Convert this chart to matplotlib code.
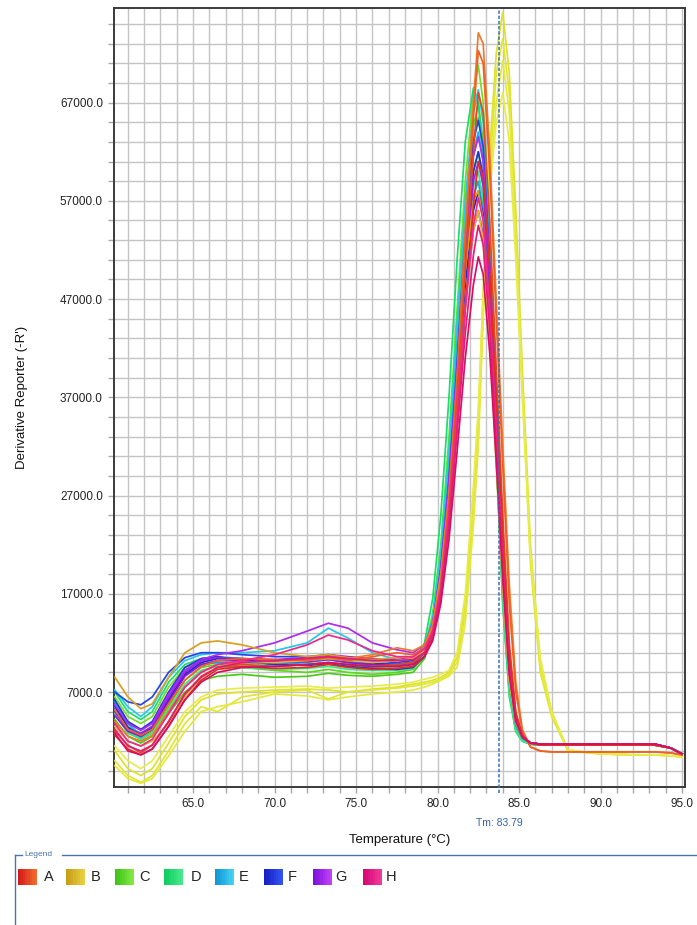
import matplotlib
matplotlib.use('Agg')
import matplotlib.pyplot as plt
import matplotlib.transforms as mtransforms
from matplotlib.patches import Rectangle
from matplotlib.lines import Line2D
import matplotlib.colors as mcolors
import numpy as np

plt.rcParams['font.family'] = ['Liberation Sans', 'DejaVu Sans']

# ---------------- data (values in thousands of -R') ----------------
TEMPS = [60.2, 61.0, 61.8, 62.5, 63.5, 64.5, 65.5, 66.5, 68.0, 70.0,
         72.0, 73.3, 74.5, 76.0, 77.5, 78.5, 79.2, 79.7, 80.2, 80.7,
         81.2, 81.7, 82.2, 82.5, 82.8, 83.2, 83.6, 84.0, 84.4, 84.8,
         85.2, 85.7, 86.3, 87.0, 88.0, 90.0, 92.0, 93.3, 94.3, 95.0]

A_CURVES = [
    [4.0, 2.5, 2.0, 2.6, 5.0, 7.5, 9.0, 9.8, 10.0, 10.2, 10.3, 10.6, 10.4, 10.8, 11.5, 11.2, 11.8, 13.8, 18.5, 27.0,
     39.0, 54.0, 67.0, 74.1, 73.0, 62.0, 47.0, 32.0, 18.0, 8.0, 3.2, 1.4, 1.0, 0.9, 0.9, 0.9, 0.9, 0.9, 0.8, 0.6],
    [5.2, 3.2, 2.6, 3.2, 5.8, 8.2, 9.6, 10.2, 10.4, 10.3, 10.2, 10.5, 10.2, 10.6, 11.0, 10.8, 11.5, 13.2, 18.0, 26.5,
     38.5, 53.0, 65.5, 72.3, 71.0, 60.0, 45.0, 30.0, 16.0, 7.0, 3.0, 1.4, 1.0, 0.9, 0.9, 0.9, 0.9, 0.9, 0.8, 0.6],
    [3.0, 1.6, 0.8, 1.6, 4.0, 6.8, 8.6, 9.5, 9.8, 9.6, 9.8, 10.0, 9.8, 9.6, 9.8, 10.0, 11.0, 13.0, 17.5, 25.5,
     37.0, 50.0, 62.0, 68.0, 66.0, 55.0, 40.0, 25.0, 12.0, 5.0, 2.5, 1.8, 1.6, 1.6, 1.6, 1.6, 1.6, 1.6, 1.3, 0.7],
    [2.6, 1.2, 0.6, 1.2, 3.5, 6.2, 8.2, 9.3, 9.6, 9.4, 9.5, 9.8, 9.5, 9.3, 9.4, 9.6, 10.6, 12.5, 16.5, 24.0,
     34.0, 46.0, 56.5, 61.0, 59.5, 50.0, 37.0, 23.0, 11.0, 4.8, 2.6, 1.8, 1.6, 1.6, 1.6, 1.6, 1.6, 1.6, 1.3, 0.7],
]

B_CURVES = [
    [8.5, 6.5, 5.3, 5.8, 8.5, 11.0, 12.0, 12.2, 11.8, 11.0, 10.6, 10.8, 10.5, 10.3, 10.5, 10.6, 11.5, 13.8, 19.0, 27.0,
     38.0, 50.0, 57.0, 58.0, 55.0, 45.0, 32.0, 19.0, 8.5, 4.0, 2.5, 1.8, 1.6, 1.6, 1.6, 1.6, 1.6, 1.6, 1.3, 0.7],
    [3.5, 2.0, 1.5, 2.0, 3.8, 6.5, 8.5, 9.5, 10.0, 10.0, 10.2, 10.4, 10.2, 10.0, 10.2, 10.4, 11.2, 13.0, 17.5, 25.0,
     35.0, 46.0, 54.0, 56.0, 53.0, 43.0, 30.0, 17.5, 8.0, 3.8, 2.4, 1.8, 1.6, 1.6, 1.6, 1.6, 1.6, 1.6, 1.3, 0.7],
]

B_SHIFTED = [
    [1.0, -0.8, -1.5, -0.8, 1.8, 4.5, 6.2, 6.8, 7.0, 7.2, 7.3, 7.2, 7.0, 7.3, 7.5, 7.8, 8.0, 8.2, 8.5, 9.0,
     10.5, 16.0, 27.0, 35.0, 48.0, 62.0, 72.0, 76.2, 70.0, 56.0, 40.0, 22.0, 10.0, 5.0, 1.0, 0.7, 0.6, 0.6, 0.5, 0.4],
    [0.0, -1.5, -2.2, -1.5, 1.0, 3.8, 5.5, 5.0, 6.5, 7.0, 7.2, 6.3, 7.0, 7.2, 7.4, 7.6, 7.8, 8.0, 8.3, 8.8,
     10.0, 15.0, 25.0, 33.0, 46.0, 60.0, 70.0, 73.5, 68.0, 54.0, 38.0, 20.0, 9.0, 4.5, 1.0, 0.7, 0.6, 0.6, 0.5, 0.4],
    [-0.5, -1.8, -2.3, -1.8, 0.5, 3.0, 5.0, 5.5, 6.0, 6.8, 6.6, 6.2, 6.5, 6.8, 7.0, 7.2, 7.5, 7.8, 8.2, 8.6,
     9.5, 14.0, 24.0, 32.0, 45.0, 58.0, 67.0, 71.3, 66.0, 53.0, 38.0, 21.0, 9.5, 4.8, 1.1, 0.7, 0.6, 0.6, 0.5, 0.4],
    [1.5, 0.0, -0.8, 0.0, 2.5, 5.0, 6.5, 7.2, 7.4, 7.5, 7.6, 7.4, 7.5, 7.6, 7.8, 8.0, 8.3, 8.5, 8.8, 9.2,
     11.0, 17.0, 28.0, 36.0, 47.0, 58.0, 65.0, 68.0, 63.0, 51.0, 37.0, 21.0, 10.5, 5.0, 1.1, 0.7, 0.6, 0.6, 0.5, 0.4],
]

C_CURVES = [
    [6.5, 4.5, 3.8, 4.5, 7.5, 9.5, 10.2, 10.5, 10.3, 10.0, 10.2, 10.4, 10.0, 9.8, 9.7, 9.9, 11.5, 15.0, 22.0, 33.0,
     46.0, 59.0, 68.0, 70.8, 67.0, 54.0, 37.0, 20.0, 8.0, 3.5, 2.2, 1.7, 1.6, 1.6, 1.6, 1.6, 1.6, 1.6, 1.3, 0.7],
    [5.0, 3.0, 2.2, 3.0, 5.5, 8.2, 9.5, 9.8, 9.5, 9.2, 9.0, 9.3, 9.0, 8.8, 9.0, 9.3, 10.8, 14.0, 21.0, 31.0,
     44.0, 56.0, 64.5, 67.0, 63.0, 50.0, 34.0, 18.0, 7.5, 3.2, 2.1, 1.7, 1.6, 1.6, 1.6, 1.6, 1.6, 1.6, 1.3, 0.7],
    [4.2, 2.5, 1.8, 2.5, 4.8, 7.0, 8.2, 8.6, 8.8, 8.5, 8.6, 8.9, 8.7, 8.6, 8.8, 9.0, 10.4, 13.2, 19.5, 29.0,
     41.0, 52.0, 60.0, 62.0, 58.5, 46.0, 31.0, 16.0, 7.0, 3.0, 2.0, 1.7, 1.6, 1.6, 1.6, 1.6, 1.6, 1.6, 1.3, 0.7],
]

D_CURVES = [
    [7.0, 5.0, 4.2, 5.0, 8.0, 9.8, 10.4, 10.6, 10.4, 10.2, 10.4, 10.6, 10.2, 10.0, 9.8, 10.0, 12.0, 16.5, 25.0, 37.0,
     51.0, 63.0, 68.5, 67.0, 61.0, 47.0, 31.0, 16.0, 6.5, 3.0, 2.0, 1.7, 1.6, 1.6, 1.6, 1.6, 1.6, 1.6, 1.3, 0.7],
    [5.5, 3.5, 2.8, 3.5, 6.2, 8.8, 9.8, 10.0, 9.8, 9.6, 9.8, 10.0, 9.7, 9.5, 9.4, 9.6, 11.2, 14.5, 21.5, 32.0,
     45.0, 56.0, 63.5, 65.5, 62.0, 49.0, 33.0, 17.5, 7.2, 3.2, 2.1, 1.7, 1.6, 1.6, 1.6, 1.6, 1.6, 1.6, 1.3, 0.7],
    [4.8, 2.8, 2.2, 2.8, 5.2, 7.8, 9.2, 9.6, 9.5, 9.3, 9.4, 9.6, 9.3, 9.2, 9.2, 9.4, 10.8, 13.8, 20.0, 30.0,
     42.0, 52.0, 58.5, 60.0, 57.0, 45.0, 31.0, 16.5, 7.0, 3.1, 2.0, 1.7, 1.6, 1.6, 1.6, 1.6, 1.6, 1.6, 1.3, 0.7],
]

E_CURVES = [
    [7.2, 5.5, 4.5, 5.5, 8.5, 10.2, 10.8, 11.0, 11.0, 11.2, 12.0, 13.5, 12.5, 11.0, 10.3, 10.2, 11.5, 14.5, 21.0, 31.0,
     44.0, 57.0, 66.0, 68.3, 65.0, 53.0, 37.0, 21.0, 9.0, 4.0, 2.4, 1.8, 1.7, 1.7, 1.7, 1.7, 1.7, 1.7, 1.3, 0.7],
    [6.0, 3.8, 2.6, 3.5, 6.8, 9.2, 10.2, 10.5, 10.4, 10.2, 10.4, 10.6, 10.3, 10.0, 9.8, 10.0, 11.2, 14.0, 20.0, 29.5,
     42.0, 54.0, 62.0, 64.0, 61.0, 49.0, 34.0, 19.0, 8.2, 3.8, 2.3, 1.8, 1.7, 1.7, 1.7, 1.7, 1.7, 1.7, 1.3, 0.7],
    [5.5, 3.2, 2.4, 3.2, 6.2, 8.8, 9.8, 10.0, 10.0, 9.8, 10.0, 10.3, 10.0, 9.7, 9.6, 9.8, 11.0, 13.5, 19.5, 28.5,
     40.0, 51.0, 57.5, 59.0, 56.0, 45.0, 31.5, 17.5, 7.8, 3.6, 2.3, 1.8, 1.7, 1.7, 1.7, 1.7, 1.7, 1.7, 1.3, 0.7],
]

F_CURVES = [
    [7.0, 6.0, 5.7, 6.5, 9.0, 10.5, 11.0, 11.0, 10.8, 10.6, 10.6, 10.8, 10.5, 10.2, 10.0, 10.2, 11.2, 13.8, 19.5, 28.5,
     40.5, 53.5, 63.0, 65.2, 62.5, 51.0, 36.0, 20.5, 9.0, 4.2, 2.5, 1.8, 1.7, 1.7, 1.7, 1.7, 1.7, 1.7, 1.3, 0.7],
    [6.2, 4.0, 3.2, 4.0, 7.0, 9.5, 10.4, 10.6, 10.2, 9.8, 9.7, 9.9, 9.6, 9.4, 9.3, 9.5, 10.6, 13.2, 18.8, 27.5,
     39.0, 51.0, 60.0, 62.0, 59.5, 48.5, 34.5, 20.0, 8.8, 4.0, 2.4, 1.8, 1.7, 1.7, 1.7, 1.7, 1.7, 1.7, 1.3, 0.7],
    [5.6, 3.4, 2.6, 3.4, 6.2, 8.8, 10.0, 10.4, 10.3, 10.1, 10.2, 10.4, 10.2, 9.9, 9.8, 10.0, 11.0, 13.5, 18.8, 27.0,
     38.0, 48.5, 56.0, 58.0, 55.5, 45.5, 32.5, 19.0, 8.5, 3.9, 2.4, 1.8, 1.7, 1.7, 1.7, 1.7, 1.7, 1.7, 1.3, 0.7],
]

G_CURVES = [
    [5.7, 3.8, 3.1, 3.8, 6.8, 9.2, 10.3, 10.8, 11.2, 12.0, 13.2, 14.0, 13.5, 12.0, 11.3, 11.0, 11.8, 14.0, 19.5, 28.5,
     40.0, 52.5, 61.5, 63.5, 61.0, 50.5, 36.5, 21.5, 9.8, 4.5, 2.6, 1.8, 1.7, 1.7, 1.7, 1.7, 1.7, 1.7, 1.3, 0.7],
    [5.0, 3.2, 2.8, 3.5, 6.5, 9.0, 10.2, 10.5, 10.4, 10.3, 10.5, 10.8, 10.6, 10.4, 10.3, 10.5, 11.4, 13.5, 18.5, 27.0,
     38.0, 50.0, 59.0, 61.0, 58.5, 48.5, 35.0, 20.5, 9.4, 4.3, 2.5, 1.8, 1.7, 1.7, 1.7, 1.7, 1.7, 1.7, 1.3, 0.7],
    [4.6, 3.0, 2.5, 3.2, 6.0, 8.6, 9.8, 10.2, 10.2, 10.0, 10.1, 10.3, 10.0, 9.8, 9.8, 10.0, 11.0, 13.0, 17.5, 25.5,
     36.0, 46.5, 54.0, 56.0, 53.5, 44.5, 32.0, 19.0, 8.8, 4.1, 2.5, 1.8, 1.7, 1.7, 1.7, 1.7, 1.7, 1.7, 1.3, 0.7],
]

H_CURVES = [
    [3.8, 2.0, 1.5, 2.2, 4.8, 7.5, 9.0, 9.8, 10.2, 10.8, 11.8, 12.8, 12.3, 11.2, 10.6, 10.6, 11.4, 13.2, 17.5, 25.0,
     35.0, 46.0, 54.5, 57.3, 55.0, 46.0, 33.5, 20.0, 9.2, 4.2, 2.5, 1.8, 1.7, 1.7, 1.7, 1.7, 1.7, 1.7, 1.3, 0.7],
    [3.2, 1.5, 1.0, 1.6, 4.0, 6.8, 8.5, 9.5, 10.0, 10.2, 10.4, 10.6, 10.4, 10.2, 10.2, 10.3, 11.0, 12.8, 17.0, 24.0,
     33.5, 43.5, 51.5, 54.5, 52.5, 44.0, 32.0, 19.5, 9.0, 4.1, 2.5, 1.8, 1.7, 1.7, 1.7, 1.7, 1.7, 1.7, 1.3, 0.7],
    [2.8, 1.0, 0.6, 1.2, 3.5, 6.2, 8.0, 9.0, 9.5, 9.6, 9.8, 10.0, 9.8, 9.6, 9.6, 9.8, 10.6, 12.2, 16.0, 22.5,
     31.5, 41.0, 48.5, 51.3, 49.5, 41.5, 30.5, 18.5, 8.8, 4.0, 2.4, 1.8, 1.7, 1.7, 1.7, 1.7, 1.7, 1.7, 1.3, 0.7],
]

LEGEND_LABELS = ['A', 'B', 'C', 'D', 'E', 'F', 'G', 'H']
TM = 83.79
X_TICKS = [65, 70, 75, 80, 85, 90, 95]
Y_TICKS = [7000, 17000, 27000, 37000, 47000, 57000, 67000]

# ---------------- style ----------------
W, H = 697, 925
LINE_SHADES = {
    'A': ('#f07a2c', '#e0301c'),
    'B': ('#d8a020', '#e0b830'),
    'BS': ('#dde22a', '#e8ec48'),
    'C': ('#74de22', '#48cc18'),
    'D': ('#18de6c', '#36e888'),
    'E': ('#22cae8', '#16a4dc'),
    'F': ('#2444ea', '#1a28c4'),
    'G': ('#ac2cf2', '#8a18de'),
    'H': ('#f0288e', '#d41062'),
}
SWATCH = [('#d41c1a', '#f26a2c'), ('#c89e16', '#e8d040'), ('#3ec418', '#84e844'),
          ('#10cc5e', '#44ea8c'), ('#1096d6', '#44d2f2'), ('#1820c4', '#3252f2'),
          ('#7e10de', '#c242f8'), ('#d60876', '#f03a9a')]


def shades(key, n):
    c0 = np.array(mcolors.to_rgb(LINE_SHADES[key][0]))
    c1 = np.array(mcolors.to_rgb(LINE_SHADES[key][1]))
    if n == 1:
        return [c0]
    return [tuple(c0 + (c1 - c0) * i / (n - 1)) for i in range(n)]


fig = plt.figure(figsize=(W / 100, H / 100), dpi=100)
ax = fig.add_axes([114 / W, 1 - 787 / H, (685 - 114) / W, (787 - 8) / H])

temps = np.array(TEMPS)
draw_order = [('BS', B_SHIFTED), ('C', C_CURVES), ('D', D_CURVES), ('E', E_CURVES),
              ('F', F_CURVES), ('G', G_CURVES), ('B', B_CURVES), ('A', A_CURVES),
              ('H', H_CURVES)]
for key, curves in draw_order:
    cols = shades(key, len(curves))
    for c, col in zip(curves, cols):
        ax.plot(temps, np.array(c) * 1000.0, color=col, lw=1.25, zorder=3,
                solid_joinstyle='round')

ax.set_xlim(60.15, 95.18)
ax.set_ylim(-2670, 76630)

ax.set_xticks(np.arange(61, 96, 1))
ax.set_xticklabels(['%.1f' % t if t in X_TICKS else '' for t in range(61, 96)])
yt = np.arange(-1000, 76000, 2000)
ax.set_yticks(yt)
ax.set_yticklabels(['%.1f' % v if v in Y_TICKS else '' for v in yt])

ax.grid(True, color='#c4c4c4', lw=1.0, zorder=0)
ax.set_axisbelow(True)
ax.tick_params(axis='both', direction='out', length=4, width=1.0, color='#a8a8a8',
               labelsize=8.5, labelcolor='#222222', pad=4)
for s in ax.spines.values():
    s.set_color('#3a3a3a')
    s.set_linewidth(1.4)

# Tm marker
ax.axvline(TM, ymin=-0.008, ymax=1.0, color='#3a6fb8', ls=(0, (2.2, 1.2)), lw=1.1,
           zorder=6, clip_on=False)
trans = mtransforms.blended_transform_factory(ax.transData, fig.transFigure)
ax.text(TM, 1 - 823 / H, 'Tm: %.2f' % TM, transform=trans, ha='center', va='center',
        fontsize=7.5, color='#2f62a8')

fig.text(399.5 / W, 1 - 840 / H, 'Temperature (°C)', ha='center', va='center',
         fontsize=9.5, color='#111111')
fig.text(22 / W, 1 - 397 / H, "Derivative Reporter (-R')", rotation=90,
         ha='center', va='center', fontsize=9.5, color='#111111')

# Legend box
fc = '#4a74aa'
yt_ = 1 - 855 / H
fig.add_artist(Line2D([15 / W, 22 / W], [yt_, yt_], color=fc, lw=1.0))
fig.add_artist(Line2D([62 / W, 1.0], [yt_, yt_], color=fc, lw=1.0))
fig.add_artist(Line2D([15 / W, 15 / W], [yt_, 0.0], color=fc, lw=1.0))
fig.text(24 / W, yt_, 'Legend', fontsize=6, color=fc, ha='left', va='center')

sw_x = [18, 66, 115, 164, 215, 264, 313, 363]
lab_x = [49, 96, 144, 196, 244, 292, 341, 391]
sw_w, sw_h = 19, 16
yc = 877
for (c0, c1), sx, lx, lab in zip(SWATCH, sw_x, lab_x, LEGEND_LABELS):
    a0 = np.array(mcolors.to_rgb(c0))
    a1 = np.array(mcolors.to_rgb(c1))
    nstrip = 8
    for k in range(nstrip):
        col = a0 + (a1 - a0) * k / (nstrip - 1)
        fig.add_artist(Rectangle(((sx + k * sw_w / nstrip) / W, 1 - (yc + sw_h / 2) / H),
                                 (sw_w / nstrip + 0.3) / W, sw_h / H,
                                 transform=fig.transFigure, facecolor=col,
                                 edgecolor='none'))
    fig.text(lx / W, 1 - yc / H, lab, fontsize=10.5, color='#222222',
             ha='center', va='center')

fig.savefig('out.png', dpi=100)
